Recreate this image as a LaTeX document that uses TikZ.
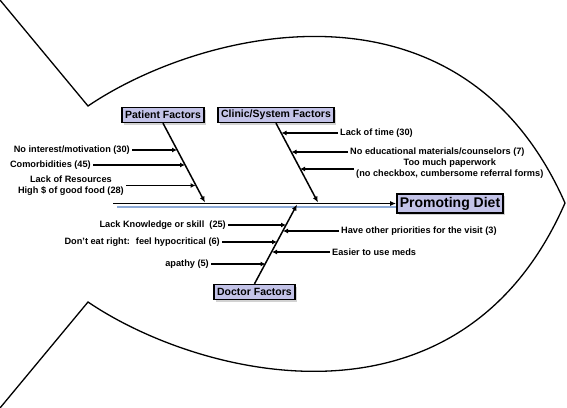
\documentclass[tikz,border=0pt]{standalone}
\usepackage{fontspec}
\setmainfont{Liberation Sans}
\usetikzlibrary{arrows.meta,shadows}
\definecolor{boxfill}{RGB}{195,195,232}
\definecolor{spineblue}{RGB}{140,170,215}

\begin{document}
\begin{tikzpicture}[x=1pt,y=-1pt,
  factor/.style={draw, line width=1.4pt, fill=boxfill, font=\bfseries\fontsize{10.5}{12}\selectfont, inner xsep=3pt, inner ysep=0pt, minimum height=15pt, drop shadow={shadow xshift=2pt, shadow yshift=-2pt, fill=gray!70}},
  cause/.style={font=\bfseries\fontsize{9.2}{11}\selectfont, inner sep=2pt, align=center},
  bone/.style={line width=1.5pt, -{Latex[length=6pt,width=5pt]}},
  twig/.style={line width=1.5pt, -{Latex[length=5pt,width=5pt]}}]
\useasboundingbox (0,0) rectangle (567,407);

% fish outline
\draw[line width=1.3pt] (0,0) -- (88,106) .. controls (200,30) and (460,-35) .. (565,203) .. controls (460,443) and (200,378) .. (88,302) -- (0,408);

% heads and boxes
\node[factor] (pf) at (163,115) {Patient Factors};
\node[factor] (cf) at (276,115) {Clinic/System Factors};
\node[factor] (df) at (254.5,292) {Doctor Factors};
\node[factor, font=\bfseries\fontsize{14}{16}\selectfont, minimum height=19pt] (goal) at (450,203.5) {Promoting Diet};

% spine
\coordinate (tail) at (113,203.5);
\coordinate (tailb) at (117,207);
\draw[spineblue, line width=1.5pt] (tailb) -- (tailb -| goal.west);
\draw[bone] (tail) -- (goal.west);

% bones
\coordinate (pfend) at (205,202.5);
\coordinate (cfend) at (318,202.5);
\coordinate (dfend) at (297,204.5);
\draw[bone] (pf.south) -- (pfend);
\draw[bone] (cf.south) -- (cfend);
\draw[bone] (df.north) -- (dfend);

% patient causes
\node[cause, anchor=east] (p1) at (132,150) {No interest/motivation (30)};
\node[cause, anchor=east] (p2) at (93,165) {Comorbidities (45)};
\node[cause, anchor=east] (p3) at (126,185.5) {Lack of Resources\\High \$ of good food (28)};
\coordinate (p1e) at (177,150);
\coordinate (p2e) at (185,165);
\coordinate (p3e) at (195.5,185.5);
\draw[twig] (p1) -- (p1e);
\draw[twig] (p2) -- (p2e);
\draw[twig] (p3) -- (p3e);

% clinic causes
\node[cause, anchor=west] (c1) at (338,133) {Lack of time (30)};
\node[cause, anchor=west] (c2) at (348,152) {No educational materials/counselors (7)};
\node[cause, anchor=west] (c3) at (354,169) {Too much paperwork\\(no checkbox, cumbersome referral forms)};
\coordinate (c1e) at (281.5,133);
\coordinate (c2e) at (291.5,152);
\coordinate (c3e) at (300,169);
\draw[twig] (c1) -- (c1e);
\draw[twig] (c2) -- (c2e);
\draw[twig] (c3) -- (c3e);

% doctor causes
\node[cause, anchor=east] (d1) at (228,225) {Lack Knowledge or skill~ (25)};
\node[cause, anchor=east] (d2) at (222,242) {Don't eat right:~ feel hypocritical (6)};
\node[cause, anchor=east] (d3) at (211,264) {apathy (5)};
\node[cause, anchor=west] (d4) at (339,231) {Have other priorities for the visit (3)};
\node[cause, anchor=west] (d5) at (330,252) {Easier to use meds};
\coordinate (d1e) at (286,225);
\coordinate (d2e) at (277,242);
\coordinate (d3e) at (265.5,264);
\coordinate (d4e) at (283,231);
\coordinate (d5e) at (272,252);
\draw[twig] (d1) -- (d1e);
\draw[twig] (d2) -- (d2e);
\draw[twig] (d3) -- (d3e);
\draw[twig] (d4) -- (d4e);
\draw[twig] (d5) -- (d5e);
\end{tikzpicture}
\end{document}
